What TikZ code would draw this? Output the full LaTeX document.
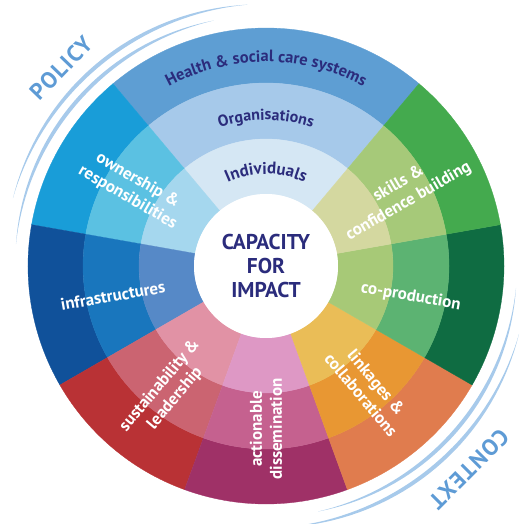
\documentclass[tikz,border=0pt]{standalone}
\usepackage{fontspec}
\setmainfont{PT Sans}
\usepackage{tikz}
\usetikzlibrary{decorations.text}
\definecolor{navy}{HTML}{2B2C7C}
\definecolor{ctxblue}{HTML}{5E9BD5}
\definecolor{ctxarc}{HTML}{A7CAEB}
\definecolor{top1}{HTML}{5E9ED3}
\definecolor{top2}{HTML}{A6C9EA}
\definecolor{top3}{HTML}{D5E7F4}
\definecolor{own1}{HTML}{199DD8}
\definecolor{own2}{HTML}{5BC1E2}
\definecolor{own3}{HTML}{A5D7EE}
\definecolor{inf1}{HTML}{10519A}
\definecolor{inf2}{HTML}{1976BD}
\definecolor{inf3}{HTML}{5689C7}
\definecolor{sus1}{HTML}{B93235}
\definecolor{sus2}{HTML}{CB6471}
\definecolor{sus3}{HTML}{E192A5}
\definecolor{dis1}{HTML}{9F3167}
\definecolor{dis2}{HTML}{C5618F}
\definecolor{dis3}{HTML}{DE98C5}
\definecolor{lnk1}{HTML}{E07C4E}
\definecolor{lnk2}{HTML}{E89733}
\definecolor{lnk3}{HTML}{EABD57}
\definecolor{cop1}{HTML}{0F6C42}
\definecolor{cop2}{HTML}{5CB372}
\definecolor{cop3}{HTML}{A7C977}
\definecolor{skl1}{HTML}{44AA4E}
\definecolor{skl2}{HTML}{A6C979}
\definecolor{skl3}{HTML}{D4D8A0}
\tikzset{
  seglabel/.style={text=white, font=\bfseries\fontsize{17}{20}\selectfont, align=center},
  outerword/.style={text=ctxblue, font=\bfseries\fontsize{23}{23}\selectfont\addfontfeature{LetterSpace=6}},
}

\begin{document}
\begin{tikzpicture}[x=1bp,y=1bp]
		\useasboundingbox (-266,-258) rectangle (254,266);
		\foreach \a/\b/\co/\cm/\ci in {50/130/top1/top2/top3, 130/170/own1/own2/own3, 170/210/inf1/inf2/inf3, 210/250/sus1/sus2/sus3, 250/290/dis1/dis2/dis3, 290/330/lnk1/lnk2/lnk3, 330/370/cop1/cop2/cop3, 10/50/skl1/skl2/skl3}
		{
		\filldraw[\co, line width=0.3] (\a:238) arc[start angle=\a, end angle=\b, radius=238] -- (\b:183) arc[start angle=\b, end angle=\a, radius=183] -- cycle;
		\filldraw[\cm, line width=0.3] (\a:183) arc[start angle=\a, end angle=\b, radius=183] -- (\b:127) arc[start angle=\b, end angle=\a, radius=127] -- cycle;
		\filldraw[\ci, line width=0.3] (\a:127) arc[start angle=\a, end angle=\b, radius=127] -- (\b:72) arc[start angle=\b, end angle=\a, radius=72] -- cycle;
		}
		\fill[white] (0,0) circle (72);
		
		\foreach \r/\s/\e in {251/102/175, 262/94/165, 251/-78/-5, 262/-86/-15}
		{
		\fill[ctxarc] plot[domain=\s:\e, samples=40] ({(\r+2*sin(180*(\x-(\s))/((\e)-(\s))))*cos(\x)}, {(\r+2*sin(180*(\x-(\s))/((\e)-(\s))))*sin(\x)})
		  -- plot[domain=\e:\s, samples=40] ({(\r-2*sin(180*(\x-(\s))/((\e)-(\s))))*cos(\x)}, {(\r-2*sin(180*(\x-(\s))/((\e)-(\s))))*sin(\x)}) -- cycle;
		}
		\node[outerword, rotate=46] (policy) at (136:285) {POLICY};
		\node[outerword, rotate=-135] (context) at (-45:287) {CONTEXT};
		
		\path[decorate, decoration={text along path, text align=center, text={|\color{navy}\bfseries\fontsize{16.5}{16.5}\selectfont|Health {\&} social care systems}}] (150:204) arc[start angle=150, end angle=30, radius=204];
		\path[decorate, decoration={text along path, text align=center, text={|\color{navy}\bfseries\fontsize{16}{16}\selectfont|Organisations}}] (150:146) arc[start angle=150, end angle=30, radius=146];
		\path[decorate, decoration={text along path, text align=center, text={|\color{navy}\bfseries\fontsize{17}{17}\selectfont|Individuals}}] (160:92) arc[start angle=160, end angle=20, radius=92];
		
		\node[text=navy, font=\bfseries\fontsize{21.5}{24}\selectfont, align=center] (core) at (0,0) {CAPACITY\\FOR\\IMPACT};
		
		\node[seglabel, rotate=-30] (ownlbl) at (150:154) {ownership \&\\responsibilities};
		\node[seglabel, rotate=10] (inflbl) at (191:156) {infrastructures};
		\node[seglabel, rotate=50] (suslbl) at (232:160) {sustainability \&\\leadership};
		\node[seglabel, rotate=90] (dislbl) at (270:163) {actionable\\dissemination};
		\node[seglabel, rotate=-50] (lnklbl) at (310:160) {linkages \&\\collaborations};
		\node[seglabel, rotate=-10] (coplbl) at (348:148) {co-production};
		\node[seglabel, rotate=30] (skllbl) at (28:156) {skills \&\\confidence building};
		\end{tikzpicture}
\end{document}
